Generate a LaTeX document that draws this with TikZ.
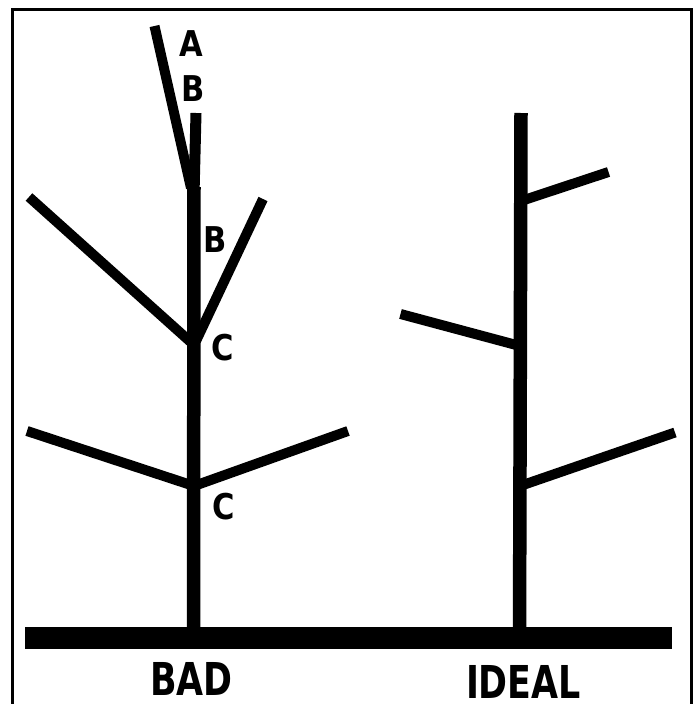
\documentclass[tikz,border=0pt]{standalone}
\usepackage{fontspec}
\newfontfamily\titlefont[FakeStretch=0.77]{DejaVu Sans}
\newfontfamily\letterfont[FakeStretch=0.86]{DejaVu Sans}
\begin{document}
\begin{tikzpicture}[x=1pt,y=-1pt,
  branch/.style={line width=10pt,line cap=butt},
  stem/.style={line width=13.5pt,line cap=butt},
  framestyle/.style={line width=3pt},
  letter/.style={inner sep=0pt,font=\letterfont\bfseries\fontsize{35.5}{40}\selectfont},
  title/.style={inner sep=0pt,font=\titlefont\bfseries\fontsize{45.3}{50}\selectfont}]
\useasboundingbox (0,0) rectangle (694,704);
% frame
\draw[framestyle] (12.5,704) -- (12.5,9.5) -- (691.5,9.5) -- (691.5,704);
% ground
\fill (25,627) rectangle (672,649);
% ---------- BAD tree ----------
\coordinate (bbase) at (193.5,640);
\coordinate (bfork) at (194,187);
\coordinate (btop) at (196,113);
\coordinate (atip) at (154.5,26);
\coordinate (c1) at (194,345);
\coordinate (c2) at (194,486);
\coordinate (ul) at (29,197);
\coordinate (ur) at (263,199);
\coordinate (ll) at (27,431);
\coordinate (lr) at (348,431);
\draw[branch] (atip) -- (191,188);
\draw[branch] (ul) -- (c1);
\draw[branch] (ur) -- (196,341);
\draw[branch] (ll) -- (c2);
\draw[branch] (lr) -- (c2);
\draw[line width=11pt,line cap=butt] (btop) -- (194,195);
\draw[stem] (bbase) -- (bfork);
% ---------- IDEAL tree ----------
\coordinate (ibase) at (519.5,640);
\coordinate (itop) at (521,113);
\coordinate (i1) at (521,201);
\coordinate (i2) at (520,346);
\coordinate (i3) at (520,486);
\coordinate (ie1) at (608.5,172);
\coordinate (ie2) at (400.5,314);
\coordinate (ie3) at (675,432.5);
\draw[branch] (ie1) -- (i1);
\draw[branch] (ie2) -- (i2);
\draw[branch] (ie3) -- (i3);
\draw[stem] (ibase) -- (itop);
% ---------- labels ----------
\node[letter] (la) at (191,43.5) {A};
\node[letter] (lb1) at (193,88.5) {B};
\node[letter] (lb2) at (215.5,240) {B};
\node[letter] (lc1) at (222.5,348) {C};
\node[letter] (lc2) at (224,506.5) {C};
\node[title] (bad) at (191.5,678.5) {BAD};
\node[title] (ideal) at (523.5,682) {IDEAL};
\end{tikzpicture}
\end{document}
